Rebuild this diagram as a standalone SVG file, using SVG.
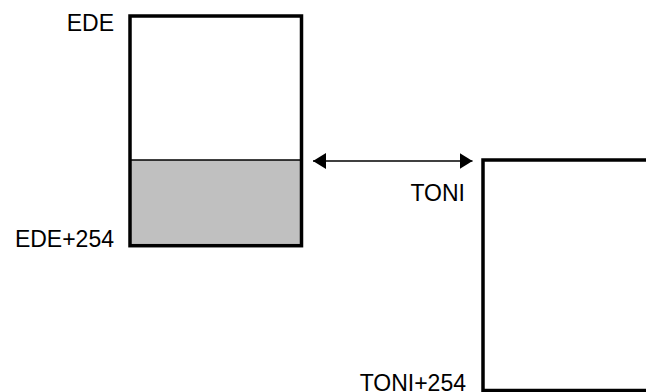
<svg xmlns="http://www.w3.org/2000/svg" width="646" height="392" viewBox="0 0 646 392">
<style>
.lbl{font-family:"Liberation Sans",Arial,sans-serif;font-size:23px;fill:#000;text-anchor:end}
.box{fill:none;stroke:#000;stroke-width:3.5}
</style>
<defs>
<marker id="ah" viewBox="0 0 13 16" refX="13" refY="8" markerWidth="13" markerHeight="16" markerUnits="userSpaceOnUse" orient="auto-start-reverse">
<path d="M0,0 L13,8 L0,16 Z" fill="#000"/>
</marker>
</defs>
<rect width="646" height="392" fill="#fff"/>
<g id="ede">
<rect x="130" y="160" width="171.5" height="85.7" fill="#c0c0c0"/>
<line x1="130" y1="160" x2="301.5" y2="160" stroke="#000" stroke-width="1.5"/>
<rect class="box" x="130" y="16" width="171.5" height="229.7"/>
<text class="lbl" x="114" y="30.5">EDE</text>
<text class="lbl" x="114" y="247">EDE+254</text>
</g>
<g id="toni">
<rect class="box" x="483" y="160" width="180" height="230.5"/>
<text class="lbl" x="465" y="201">TONI</text>
<text class="lbl" x="466" y="390.5">TONI+254</text>
</g>
<g id="connectors">
<line x1="313" y1="161" x2="472.5" y2="161" stroke="#000" stroke-width="1.3" marker-start="url(#ah)" marker-end="url(#ah)"/>
</g>
</svg>
